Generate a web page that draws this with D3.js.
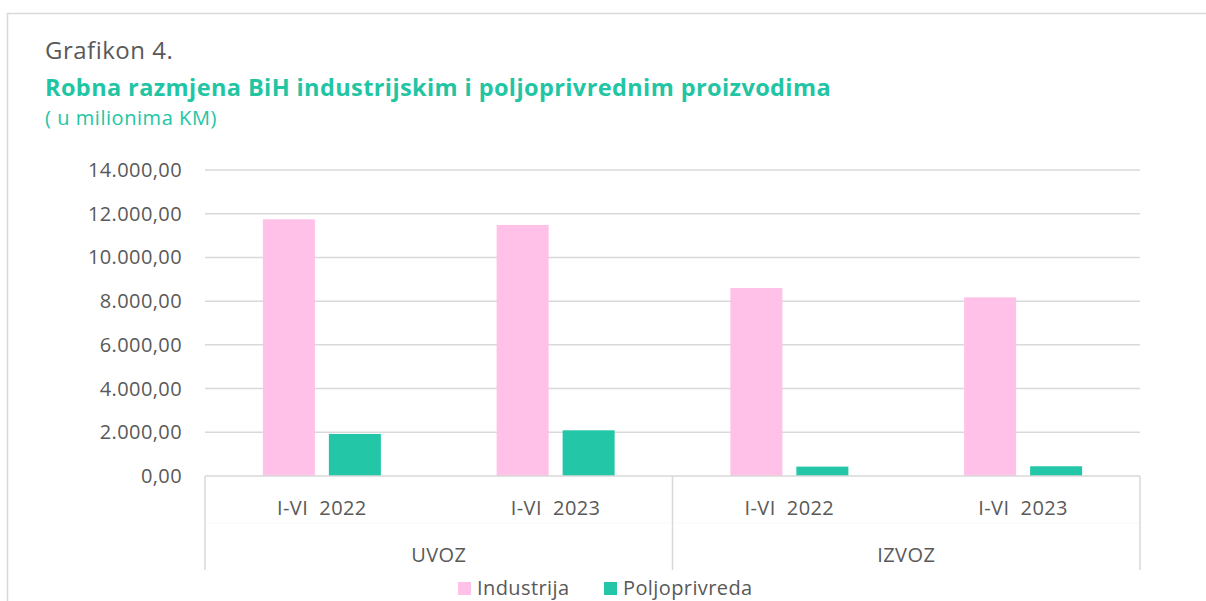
<!DOCTYPE html>
<html lang="bs">
<head>
  <meta charset="UTF-8">
  <title>Grafikon 4</title>
  <script src="https://d3js.org/d3.v7.min.js"></script>
  <style>
    body {
      margin: 0;
      padding: 0;
      background: #fff;
      font-family: "Open Sans", sans-serif;
    }
    .grid line { stroke: #d9d9d9; stroke-width: 1.5px; }
    .axis-text { fill: #595959; font-size: 20px; letter-spacing: 0.4px; }
  </style>
</head>
<body>
  <div id="chart"></div>
  <script>
    // data
    const groups = ["UVOZ", "IZVOZ"];
    const periods = ["I-VI  2022", "I-VI  2023"];
    const seriesNames = ["Industrija", "Poljoprivreda"];
    const industrija = [11745, 11485, 8600, 8175];
    const poljoprivreda = [1925, 2090, 430, 445];
    const yTicks = [0, 2000, 4000, 6000, 8000, 10000, 12000, 14000];
    const colors = ["#ffc1e8", "#23c6a6"];

    const width = 1206, height = 601;
    const margin = { top: 170, right: 66, bottom: 125, left: 205 };

    const svg = d3.select("#chart").append("svg")
      .attr("width", width)
      .attr("height", height);

    // outer frame of the chart area
    svg.append("rect")
      .attr("x", 7.5).attr("y", 13.5)
      .attr("width", width).attr("height", height)
      .attr("fill", "none")
      .attr("stroke", "#d9d9d9")
      .attr("stroke-width", 1.5);

    // titles
    svg.append("text")
      .attr("x", 45).attr("y", 59)
      .attr("fill", "#595959")
      .style("font-size", "24px")
      .style("letter-spacing", "0.5px")
      .text("Grafikon 4.");
    svg.append("text")
      .attr("x", 45).attr("y", 96)
      .attr("fill", "#22c5a3")
      .style("font-size", "23.5px")
      .style("letter-spacing", "0.4px")
      .style("font-weight", "bold")
      .text("Robna razmjena BiH industrijskim i poljoprivrednim proizvodima");
    svg.append("text")
      .attr("x", 45).attr("y", 125)
      .attr("fill", "#22c5a3")
      .style("font-size", "20px")
      .style("letter-spacing", "0.55px")
      .text("( u milionima KM)");

    const plotW = width - margin.left - margin.right;
    const plotH = height - margin.top - margin.bottom;

    const g = svg.append("g")
      .attr("transform", `translate(${margin.left},${margin.top})`);

    const cats = [];
    groups.forEach(gr => periods.forEach(p => cats.push(gr + "|" + p)));

    const x0 = d3.scaleBand().domain(cats).range([0, plotW]).paddingInner(0).paddingOuter(0);
    const x1 = d3.scaleBand().domain(seriesNames).range([0, x0.bandwidth()])
      .paddingInner(0.212).paddingOuter(0.877);
    const y = d3.scaleLinear().domain([0, 14000]).range([plotH, 0]);

    const fmt = v => d3.format(",.2f")(v).replace(/,/g, "#").replace(".", ",").replace(/#/g, ".");

    // gridlines
    g.append("g").attr("class", "grid")
      .selectAll("line")
      .data(yTicks.slice(1))
      .join("line")
      .attr("x1", 0).attr("x2", plotW)
      .attr("y1", d => y(d)).attr("y2", d => y(d));

    // y labels
    g.append("g")
      .selectAll("text")
      .data(yTicks)
      .join("text")
      .attr("class", "axis-text")
      .attr("x", -23)
      .attr("y", d => y(d))
      .attr("dy", "0.35em")
      .attr("text-anchor", "end")
      .text(fmt);

    // bars
    const rows = cats.map((c, i) => ({ cat: c, vals: [industrija[i], poljoprivreda[i]] }));
    g.append("g")
      .selectAll("g")
      .data(rows)
      .join("g")
      .attr("transform", d => `translate(${x0(d.cat)},0)`)
      .selectAll("rect")
      .data(d => d.vals.map((v, i) => ({ name: seriesNames[i], v, i })))
      .join("rect")
      .attr("x", d => x1(d.name))
      .attr("width", x1.bandwidth())
      .attr("y", d => y(d.v))
      .attr("height", d => plotH - y(d.v))
      .attr("fill", d => colors[d.i]);

    // category axis
    const ax = g.append("g").attr("transform", `translate(0,${plotH})`);
    ax.append("line")
      .attr("x1", 0).attr("x2", plotW)
      .attr("stroke", "#d9d9d9").attr("stroke-width", 1.5);
    ax.append("line")
      .attr("x1", 0).attr("x2", plotW)
      .attr("y1", 47).attr("y2", 47)
      .attr("stroke", "#f8f8f8").attr("stroke-width", 1);
    const groupW = plotW / groups.length;
    ax.selectAll("line.sep")
      .data(d3.range(groups.length + 1))
      .join("line")
      .attr("class", "sep")
      .attr("x1", d => d * groupW).attr("x2", d => d * groupW)
      .attr("y1", 0).attr("y2", 94)
      .attr("stroke", "#d9d9d9").attr("stroke-width", 1.5);
    ax.selectAll("text.cat")
      .data(cats)
      .join("text")
      .attr("class", "axis-text cat")
      .attr("x", d => x0(d) + x0.bandwidth() / 2)
      .attr("y", 39)
      .attr("text-anchor", "middle")
      .style("white-space", "pre")
      .text(d => d.split("|")[1]);
    ax.selectAll("text.grp")
      .data(groups)
      .join("text")
      .attr("class", "axis-text grp")
      .attr("x", (d, i) => (i + 0.5) * groupW)
      .attr("y", 86)
      .attr("text-anchor", "middle")
      .text(d => d);

    // legend
    const legX = [458, 604];
    const leg = svg.append("g");
    seriesNames.forEach((s, i) => {
      leg.append("rect")
        .attr("x", legX[i]).attr("y", 582)
        .attr("width", 13).attr("height", 13)
        .attr("fill", colors[i]);
      leg.append("text")
        .attr("class", "axis-text")
        .attr("x", legX[i] + 19).attr("y", 595)
        .text(s);
    });
  </script>
</body>
</html>
